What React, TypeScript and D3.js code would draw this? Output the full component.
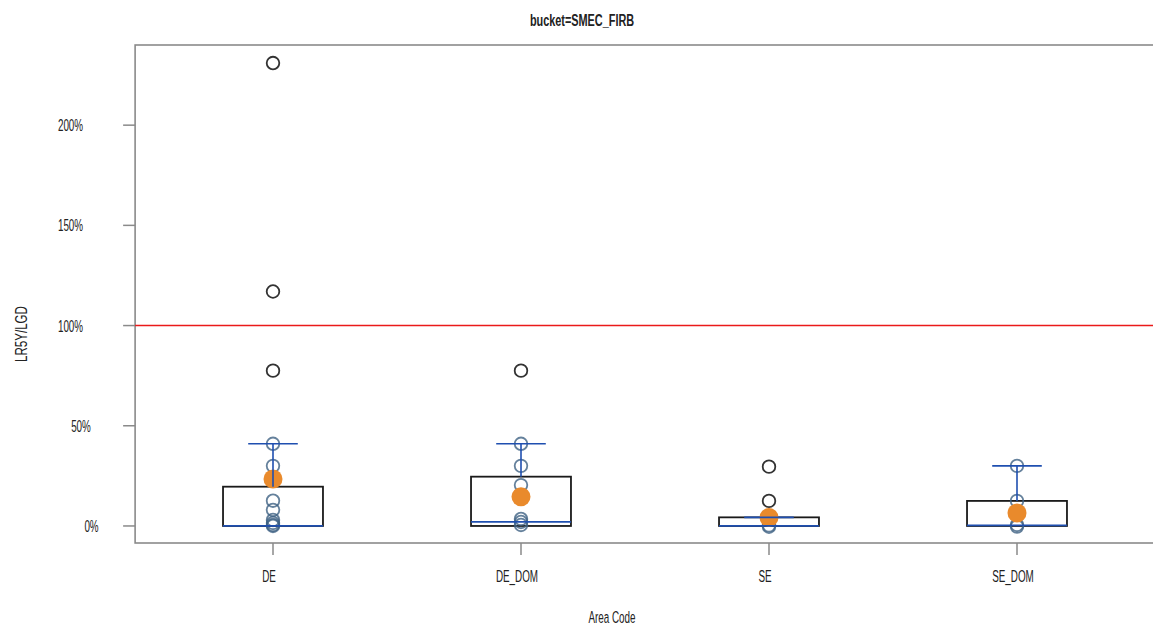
import React from "react";
import * as d3 from "d3";

const categories = ["DE", "DE_DOM", "SE", "SE_DOM"];
const boxLow = [0, 0, 0, 0];
const boxHigh = [0.196, 0.246, 0.043, 0.125];
const medians = [0, 0.02, 0, 0.003];
const whiskerHigh = [0.41, 0.41, 0.043, 0.3];
const means = [0.234, 0.146, 0.042, 0.065];
const pointsDE = [2.31, 1.17, 0.775, 0.41, 0.3, 0.126, 0.08, 0.03, 0.015, 0.005, 0.0];
const pointsDEDOM = [0.775, 0.41, 0.3, 0.204, 0.035, 0.02, 0.005];
const pointsSE = [0.296, 0.125, 0.003, -0.004];
const pointsSEDOM = [0.3, 0.125, 0.005, -0.003];
const pointSets = [pointsDE, pointsDEDOM, pointsSE, pointsSEDOM];
const yTicks = [0, 0.5, 1, 1.5, 2];
const refLine = 1;
const title = "bucket=SMEC_FIRB";
const xTitle = "Area Code";
const yTitle = "LR5Y/LGD";

const W = 1153;
const H = 630;
const FONT = "'Liberation Sans Narrow', 'Liberation Sans', Arial, sans-serif";
const SX = 0.58;

function T({ x, y, children, size = 17, anchor = "middle", weight = "normal", rotate = 0, sx = SX }: any) {
  return (
    <text
      transform={`translate(${x},${y}) rotate(${rotate}) scale(${sx},1)`}
      textAnchor={anchor}
      dominantBaseline="central"
      fontFamily={FONT}
      fontSize={size}
      fontWeight={weight}
      fill="#222"
    >
      {children}
    </text>
  );
}

export default function App() {
  const x = d3.scalePoint<string>().domain(categories).range([273, 1017]);
  const step = x.step();
  const y = d3.scaleLinear().domain([-0.085, 2.4]).range([543, 45]);
  const left = (x(categories[0]) as number) - step * 0.556;
  const right = (x(categories[categories.length - 1]) as number) + step * 0.57;
  const top = y(2.4);
  const bottom = y(-0.085);
  const boxW = step * 0.403;
  const capW = step * 0.2;
  const fmt = d3.format(".0%");

  return (
    <svg width={W} height={H} style={{ position: "absolute", left: 0, top: 0, background: "#fff" }}>
      <T x={582} y={21} size={16} weight="bold" sx={0.68}>{title}</T>
      {/* frame */}
      <rect x={left} y={top} width={right - left} height={bottom - top} fill="none" stroke="#8a8a8a" strokeWidth={1.6} />
      {/* y ticks */}
      {yTicks.map((t) => {
        const lab = fmt(t);
        return (
          <g key={t}>
            <line x1={left - 12} x2={left} y1={y(t)} y2={y(t)} stroke="#8a8a8a" strokeWidth={1.5} />
            <T x={70.5 + (4 - lab.length) * 10.5} y={y(t)}>{lab}</T>
          </g>
        );
      })}
      {/* x ticks */}
      {categories.map((c) => (
        <g key={c}>
          <line x1={x(c)} x2={x(c)} y1={bottom} y2={bottom + 12} stroke="#8a8a8a" strokeWidth={1.5} />
          <T x={(x(c) as number) - 4} y={576}>{c}</T>
        </g>
      ))}
      <T x={612} y={617}>{xTitle}</T>
      <T x={21} y={334} rotate={-90} sx={0.68}>{yTitle}</T>
      {/* reference line */}
      <line x1={left} x2={right} y1={y(refLine)} y2={y(refLine)} stroke="#ea1a1a" strokeWidth={1.6} />
      {categories.map((c, i) => {
        const cx = x(c) as number;
        const pts = pointSets[i];
        return (
          <g key={c}>
            <rect
              x={cx - boxW / 2}
              y={y(boxHigh[i])}
              width={boxW}
              height={y(boxLow[i]) - y(boxHigh[i])}
              fill="none"
              stroke="#1a1a1a"
              strokeWidth={1.8}
            />
            {pts.map((v, j) => {
              const out = v > whiskerHigh[i] + 0.001;
              return (
                <circle
                  key={j}
                  cx={cx}
                  cy={y(v)}
                  r={6.3}
                  fill="none"
                  stroke={out ? "#333" : "#3f6283"}
                  strokeOpacity={out ? 1 : 0.8}
                  strokeWidth={1.8}
                />
              );
            })}
            <circle cx={cx} cy={y(means[i])} r={9.5} fill="#e98a2c" />
            <line x1={cx - boxW / 2} x2={cx + boxW / 2} y1={y(medians[i])} y2={y(medians[i])} stroke="#1f4fb0" strokeWidth={1.8} />
            <line x1={cx} x2={cx} y1={y(boxHigh[i])} y2={y(whiskerHigh[i])} stroke="#1f4fb0" strokeWidth={1.6} />
            <line x1={cx - capW / 2} x2={cx + capW / 2} y1={y(whiskerHigh[i])} y2={y(whiskerHigh[i])} stroke="#1f4fb0" strokeWidth={1.6} />
          </g>
        );
      })}
    </svg>
  );
}
